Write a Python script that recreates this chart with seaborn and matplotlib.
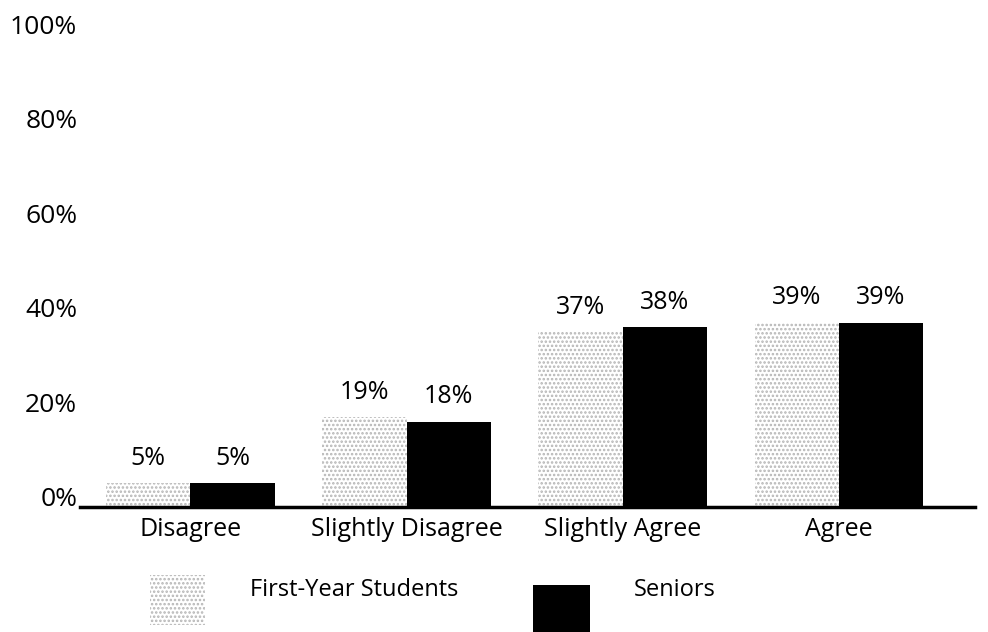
import pandas as pd
import matplotlib.pyplot as plt
import matplotlib.transforms as mtransforms
from matplotlib.patches import Rectangle
import seaborn as sns

categories = ["Disagree", "Slightly Disagree", "Slightly Agree", "Agree"]
first_year = [5, 19, 37, 39]
seniors = [5, 18, 38, 39]
groups = ["First-Year Students", "Seniors"]
y_ticks = [0, 20, 40, 60, 80, 100]

df = pd.DataFrame({
    "Response": categories * 2,
    "Group": [groups[0]] * 4 + [groups[1]] * 4,
    "Percent": first_year + seniors,
})

sns.set_style("white")
plt.rcParams["font.family"] = ["Open Sans", "DejaVu Sans"]
plt.rcParams["text.color"] = "black"
plt.rcParams["xtick.color"] = "black"
plt.rcParams["ytick.color"] = "black"
plt.rcParams["hatch.linewidth"] = 1.2
plt.rcParams["hatch.color"] = "#b5b5b5"

W, H = 988, 632
fig = plt.figure(figsize=(W / 100, H / 100), dpi=100)
ax = fig.add_axes([0.081, 0.198, 0.906, 0.77])

sns.barplot(data=df, x="Response", y="Percent", hue="Group", order=categories,
            hue_order=groups, palette=["white", "black"], width=0.78, gap=0,
            saturation=1, legend=False, ax=ax)

fy_bars, sr_bars = ax.containers
for bar in fy_bars:
    bar.set_hatch("....")
    bar.set_edgecolor("#b5b5b5")
    bar.set_linewidth(0)
for bar in sr_bars:
    bar.set_edgecolor("black")
    bar.set_linewidth(0)

for cont, vals in zip(ax.containers, [first_year, seniors]):
    for bar, v in zip(cont, vals):
        ax.annotate(f"{v}%", (bar.get_x() + bar.get_width() / 2, bar.get_height()),
                    xytext=(0, 9), textcoords="offset points",
                    ha="center", va="bottom", fontsize=18, color="black")

ax.set_xlim(-0.51, 3.63)
ax.set_ylim(0, 103)
ax.set_yticks(y_ticks)
ax.set_yticklabels([f"{t}%" for t in y_ticks])
ax.set_xlabel("")
ax.set_ylabel("")
ax.tick_params(axis="x", length=0, labelsize=18, pad=7, labelcolor="black")
ax.tick_params(axis="y", length=0, labelsize=19, pad=2, labelcolor="black")
shift = mtransforms.ScaledTranslation(0, 10 / 100, fig.dpi_scale_trans)
for lab in ax.get_yticklabels():
    lab.set_transform(lab.get_transform() + shift)

for side in ["top", "right", "left"]:
    ax.spines[side].set_visible(False)
ax.spines["bottom"].set_color("black")
ax.spines["bottom"].set_linewidth(2.5)

# legend drawn in figure pixels (left, top, width, height)
fig.add_artist(Rectangle((150 / W, 1 - 625 / H), 55 / W, 50 / H, transform=fig.transFigure,
                         facecolor="white", edgecolor="#b5b5b5", hatch="....", linewidth=0))
fig.add_artist(Rectangle((533 / W, 0), 57 / W, 47 / H, transform=fig.transFigure,
                         facecolor="black", edgecolor="black", linewidth=0))
fig.text(250 / W, 1 - 590 / H, groups[0], ha="left", va="center", fontsize=17)
fig.text(634 / W, 1 - 590 / H, groups[1], ha="left", va="center", fontsize=17)

fig.savefig("out.png", dpi=100)
